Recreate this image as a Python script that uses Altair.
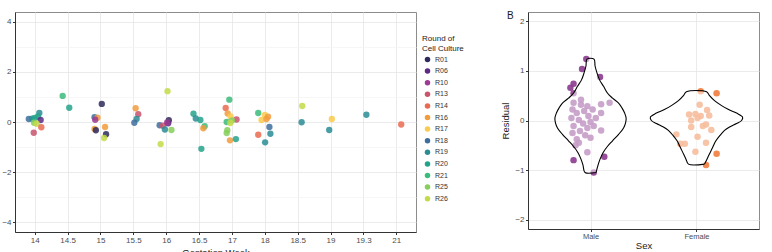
import altair as alt
import pandas as pd

FONT = "Liberation Sans"

# ---------------- Panel A data ----------------
weeks = ["14", "14.5", "15", "15.5", "16", "16.5", "17", "18", "18.5", "19", "19.3", "21"]
rounds = ["R01", "R06", "R10", "R13", "R14", "R16", "R17", "R18", "R19", "R20", "R21", "R25", "R26"]
round_colors = ["#2e2a5c", "#5a2a85", "#9b3b91", "#c9546c", "#e96a4f", "#f29c3c", "#f9cb4e",
                "#3e6e9e", "#2c8c95", "#22a38b", "#3cbb7a", "#86cf5c", "#c3db48"]

pt_week = ["14"] * 10 + ["14.5"] * 2 + ["15"] * 9 + ["15.5"] * 4 + ["16"] * 9 + ["16.5"] * 6 \
    + ["17"] * 12 + ["18"] * 9 + ["18.5"] * 2 + ["19"] * 2 + ["19.3"] + ["21"]
pt_jitter = [-0.18, -0.08, 0.0, 0.14, 0.10, 0.18, -0.02, 0.06, -0.03, 0.20,
             -0.15, 0.05,
             0.04, -0.18, -0.09, -0.16, -0.18, -0.14, 0.14, 0.17, 0.11,
             0.07, 0.15, 0.10, 0.03,
             0.04, -0.17, -0.20, -0.10, 0.08, 0.06, 0.03, -0.04, 0.16,
             -0.17, -0.10, 0.04, 0.17, 0.13, 0.07,
             -0.08, -0.19, -0.13, -0.04, 0.14, 0.0, -0.16, -0.05, -0.14, -0.16, -0.06, 0.12,
             -0.20, 0.0, 0.10, -0.10, 0.05, -0.20, 0.14, 0.17, 0.01,
             0.14, 0.12,
             0.04, -0.04,
             0.09,
             0.15]
pt_resid = [0.12, 0.13, 0.16, 0.36, 0.22, 0.08, -0.03, -0.07, -0.43, -0.21,
            1.04, 0.57,
            0.72, 0.19, 0.17, 0.09, -0.28, -0.33, -0.20, -0.49, -0.64,
            0.55, 0.31, 0.12, -0.03,
            1.23, -0.88, -0.13, -0.15, 0.07, -0.05, -0.02, -0.30, -0.32,
            0.33, 0.14, 0.08, -0.17, -0.25, -1.07,
            0.89, 0.56, 0.34, 0.22, 0.10, 0.06, 0.0, -0.04, -0.33, -0.44, -0.73, -0.68,
            0.36, 0.28, 0.21, 0.08, 0.12, -0.51, -0.20, -0.47, -0.81,
            0.64, -0.01,
            0.12, -0.32,
            0.29,
            -0.10]
pt_round = ["R18", "R19", "R20", "R19", "R20", "R06", "R25", "R26", "R13", "R14",
            "R21", "R20",
            "R01", "R18", "R16", "R10", "R16", "R01", "R16", "R01", "R26",
            "R16", "R13", "R19", "R18",
            "R26", "R26", "R18", "R13", "R01", "R06", "R10", "R19", "R25",
            "R20", "R19", "R20", "R21", "R16", "R20",
            "R21", "R14", "R16", "R17", "R13", "R25", "R21", "R26", "R25", "R25", "R16", "R20",
            "R21", "R17", "R16", "R17", "R16", "R14", "R18", "R19", "R19",
            "R26", "R19",
            "R17", "R19",
            "R19",
            "R14"]

# ---------------- Panel B data ----------------
sexes = ["Male", "Female"]
sex_colors = ["#8c3b8f", "#ef7c3d"]

male_resid = [1.24, 1.04, 0.88, 0.74, 0.66, 0.55, 0.36, 0.32, 0.29, 0.33, 0.36, 0.22, 0.15, 0.19,
              0.22, 0.15, 0.09, 0.05, 0.01, -0.06, -0.03, -0.11, -0.15, -0.11, -0.21, -0.20,
              -0.25, -0.30, -0.35, -0.38, -0.50, -0.64, -0.73, -0.80, -1.05, 0.42, 0.05, -0.45]
male_jitter = [-0.04, -0.08, 0.09, -0.16, -0.19, -0.16, -0.16, -0.09, -0.03, 0.10, 0.18, -0.17,
               -0.13, -0.06, 0.02, 0.10, -0.02, -0.18, -0.11, -0.07, 0.0, -0.16, -0.03, 0.03,
               -0.10, 0.10, -0.17, -0.05, 0.0, -0.13, -0.14, -0.03, 0.13, -0.16, 0.03, -0.09,
               0.05, -0.11]
female_resid = [0.59, 0.55, 0.32, 0.21, 0.12, 0.13, 0.09, 0.10, 0.05, 0.0, -0.08, -0.11, -0.19,
                -0.13, -0.28, -0.33, -0.47, -0.47, -0.45, -0.63, -0.67, -0.90]
female_jitter = [0.04, 0.19, 0.03, 0.10, -0.07, -0.01, 0.04, 0.12, 0.01, -0.05, 0.09, 0.06, 0.14,
                 -0.05, -0.19, 0.01, -0.11, -0.15, 0.09, -0.01, 0.19, 0.09]

# violin outlines (residual level, half-width in category units)
male_vy = [1.24, 1.10, 0.96, 0.82, 0.69, 0.55, 0.45, 0.35, 0.25, 0.15, 0.05, -0.05, -0.15,
           -0.28, -0.41, -0.52, -0.65, -0.78, -0.90, -1.05]
male_vw = [0.033, 0.043, 0.061, 0.085, 0.123, 0.161, 0.208, 0.265, 0.298, 0.322, 0.336, 0.331,
           0.312, 0.265, 0.208, 0.161, 0.118, 0.090, 0.071, 0.052]
female_vy = [0.58, 0.50, 0.40, 0.30, 0.22, 0.15, 0.07, 0.00, -0.06, -0.13, -0.20, -0.30, -0.42,
             -0.55, -0.68, -0.78, -0.88]
female_vw = [0.095, 0.123, 0.170, 0.237, 0.303, 0.378, 0.435, 0.426, 0.378, 0.312, 0.265, 0.222,
             0.180, 0.151, 0.121, 0.099, 0.076]

# ---------------- Build tables ----------------
left_df = pd.DataFrame({"week": pt_week, "jitter": pt_jitter, "resid": pt_resid, "round": pt_round})
left_df["xpos"] = [weeks.index(w) + j for w, j in zip(pt_week, pt_jitter)]

right_df = pd.DataFrame({
    "sex": ["Male"] * len(male_resid) + ["Female"] * len(female_resid),
    "resid": male_resid + female_resid,
    "jitter": male_jitter + female_jitter,
})
right_df["xpos"] = [sexes.index(s) + j for s, j in zip(right_df["sex"], right_df["jitter"])]


def outline(sex, vy, vw):
    """closed polygon: right side bottom->top, left side top->bottom, back to start"""
    c = sexes.index(sex)
    pairs = sorted(zip(vy, vw))
    rows = [(c + w, y) for y, w in pairs] + [(c - w, y) for y, w in reversed(pairs)]
    rows.append(rows[0])
    return pd.DataFrame({"sex": sex, "vx": [r[0] for r in rows], "vy": [r[1] for r in rows],
                         "seq": list(range(len(rows)))})


poly_df = pd.concat([outline("Male", male_vy, male_vw),
                     outline("Female", female_vy, female_vw)], ignore_index=True)

week_expr = "[" + ",".join("'%s'" % w for w in weeks) + "][round(datum.value)]"

# ---------------- Panel A ----------------
left = alt.Chart(left_df).mark_circle(size=40, opacity=0.85).encode(
    x=alt.X("xpos:Q",
            scale=alt.Scale(domain=[-0.6, len(weeks) - 0.4], nice=False, zero=False),
            axis=alt.Axis(values=list(range(len(weeks))), labelExpr=week_expr,
                          title="Gestation Week", titlePadding=3)),
    y=alt.Y("resid:Q",
            scale=alt.Scale(domain=[-4.39, 4.39], nice=False),
            axis=alt.Axis(values=list(range(-4, 5)), title=None,
                          labelExpr="datum.value % 2 == 0 ? datum.label : ''",
                          gridColor={"condition": {"test": "datum.value % 2 != 0", "value": "#f4f4f4"},
                                     "value": "#e6e6e6"},
                          tickOpacity={"condition": {"test": "datum.value % 2 != 0", "value": 0},
                                       "value": 1})),
    color=alt.Color("round:N",
                    scale=alt.Scale(domain=rounds, range=round_colors),
                    legend=alt.Legend(title=["Round of", "Cell Culture"], orient="none",
                                      legendX=407, legendY=23, symbolOffset=2)),
).properties(width=401, height=220)

# ---------------- Panel B ----------------
pts = alt.Chart(right_df).mark_circle(size=42, opacity=0.9).encode(
    x=alt.X("xpos:Q",
            scale=alt.Scale(domain=[-0.59, 1.59], nice=False, zero=False),
            axis=alt.Axis(values=[0, 1], labelExpr="datum.value == 0 ? 'Male' : 'Female'",
                          title="Sex", titlePadding=1, labelFontSize=7.5, labelPadding=0.5,
                          labelColor="#4d4d4d")),
    y=alt.Y("resid:Q",
            scale=alt.Scale(domain=[-2.19, 2.19], nice=False),
            axis=alt.Axis(values=[-2, -1, 0, 1, 2], title="Residual", titlePadding=4,
                          labelColor="#4d4d4d")),
    color=alt.Color("sex:N", scale=alt.Scale(domain=sexes, range=sex_colors), legend=None),
)

# white translucent fill of the violins (one trimmed ranged area per sex)
fills = []
for s, vy, vw in [("Male", male_vy, male_vw), ("Female", female_vy, female_vw)]:
    c = sexes.index(s)
    pairs = sorted(zip(vy, vw))
    fdf = pd.DataFrame({"vy": [p[0] for p in pairs],
                        "lo": [c - p[1] for p in pairs],
                        "hi": [c + p[1] for p in pairs]})
    fills.append(
        alt.Chart(fdf).mark_area(orient="horizontal", color="white", opacity=0.5,
                                 interpolate="monotone").encode(
            y=alt.Y("vy:Q"), x=alt.X("lo:Q"), x2="hi:Q")
    )

violin = alt.Chart(poly_df).mark_line(
    color="black", strokeWidth=1.1, interpolate="catmull-rom"
).encode(
    x=alt.X("vx:Q"),
    y=alt.Y("vy:Q"),
    detail="sex:N",
    order=alt.Order("seq:Q"),
)

tag = alt.Chart(pd.DataFrame({"t": ["B"]})).mark_text(
    align="left", baseline="top", fontSize=10, font=FONT, color="#1a1a1a"
).encode(x=alt.value(-21), y=alt.value(-1), text="t:N")

right = alt.layer(pts, *fills, violin, tag).properties(width=231, height=217)

chart = alt.hconcat(left, right, spacing=35).resolve_scale(color="independent").properties(
    padding={"left": 1, "top": 10, "right": 5, "bottom": 5},
    background="white",
).configure_view(
    stroke="#8c8c8c", strokeWidth=1
).configure_axis(
    labelFont=FONT, titleFont=FONT, labelFontSize=8, titleFontSize=9.5,
    labelColor="#4d4d4d", titleColor="#1a1a1a", titleFontWeight="normal",
    gridColor="#e6e6e6", gridWidth=0.8, domainColor="#333333", tickColor="#333333",
    tickSize=2.5, labelPadding=1.5,
).configure_legend(
    titleFont=FONT, labelFont=FONT, titleFontSize=8, titleFontWeight="normal",
    titleColor="#1a1a1a", labelFontSize=7, labelColor="#333333", symbolSize=30,
    symbolType="circle", rowPadding=3.6, titlePadding=3, titleLineHeight=10,
    symbolOpacity=1, symbolStrokeWidth=0,
)

chart.save("out.html", embed_options={"renderer": "svg", "actions": False})
